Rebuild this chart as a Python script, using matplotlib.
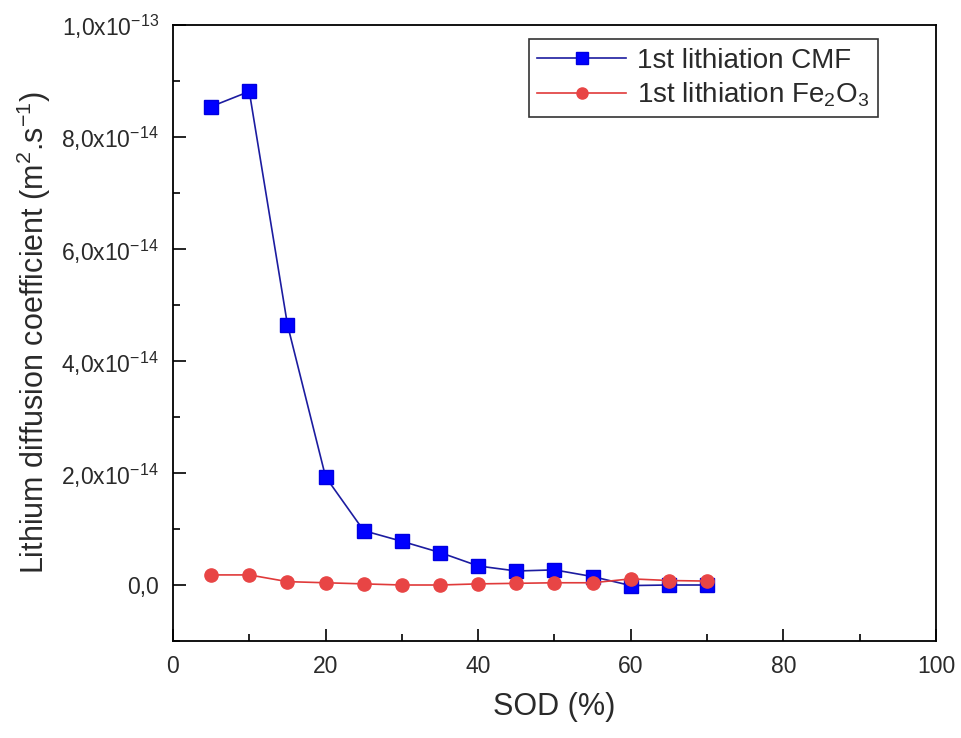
import matplotlib
matplotlib.use("Agg")
import matplotlib.pyplot as plt
from matplotlib.ticker import FixedLocator, MultipleLocator

plt.rcParams['font.family'] = ['Liberation Sans', 'DejaVu Sans']
plt.rcParams['mathtext.fontset'] = 'custom'
plt.rcParams['mathtext.rm'] = 'Liberation Sans'
plt.rcParams['mathtext.it'] = 'Liberation Sans'
plt.rcParams['axes.unicode_minus'] = False

sod = [5, 10, 15, 20, 25, 30, 35, 40, 45, 50, 55, 60, 65, 70]
cmf = [8.54e-14, 8.81e-14, 4.65e-14, 1.93e-14, 0.97e-14, 0.78e-14, 0.58e-14,
       0.34e-14, 0.25e-14, 0.27e-14, 0.15e-14, -0.01e-14, 0.0, 0.0]
fe2o3 = [0.18e-14, 0.18e-14, 0.06e-14, 0.04e-14, 0.02e-14, 0.0, 0.0,
         0.02e-14, 0.03e-14, 0.04e-14, 0.04e-14, 0.11e-14, 0.08e-14, 0.07e-14]

ytick_vals = [0.0, 2e-14, 4e-14, 6e-14, 8e-14, 1e-13]
ytick_labels = ['0,0', r'2,0x10$^{-14}$', r'4,0x10$^{-14}$', r'6,0x10$^{-14}$',
                r'8,0x10$^{-14}$', r'1,0x10$^{-13}$']

txt = '#2a2a2a'
fig = plt.figure(figsize=(9.61, 7.38), dpi=100)
ax = fig.add_axes([0.180, 0.1314, 0.794, 0.835])

ax.plot(sod, cmf, color='#1c1ca0', lw=1.2, marker='s', ms=9.5,
        mfc='#0000ff', mec='#0000e0', label='1st lithiation CMF')
ax.plot(sod, fe2o3, color='#e03a3a', lw=1.2, marker='o', ms=9.5,
        mfc='#e84545', mec='#e84545', label=r'1st lithiation Fe$_2$O$_3$')

ax.set_xlim(0, 100)
ax.set_ylim(-1e-14, 1e-13)
ax.xaxis.set_major_locator(MultipleLocator(20))
ax.xaxis.set_minor_locator(MultipleLocator(10))
ax.yaxis.set_major_locator(FixedLocator(ytick_vals))
ax.yaxis.set_minor_locator(MultipleLocator(1e-14))
ax.set_yticklabels(ytick_labels)

ax.tick_params(which='both', direction='in', top=False, right=False,
               labelsize=16.5, width=1.2, labelcolor=txt)
ax.tick_params(which='major', length=9, pad=10)
ax.tick_params(which='minor', length=5)
for s in ax.spines.values():
    s.set_linewidth(1.3)

ax.set_xlabel('SOD (%)', fontsize=22, labelpad=10, color=txt)
ax.set_ylabel(r'Lithium diffusion coefficient (m$^2$.s$^{-1}$)', fontsize=22,
              labelpad=6, color=txt)

leg = ax.legend(loc='upper right', fontsize=20, frameon=True, fancybox=False,
                edgecolor='black', bbox_to_anchor=(0.935, 0.99), handlelength=3.2,
                borderpad=0.3, labelspacing=0.25, handletextpad=0.4,
                borderaxespad=0.3)
leg.get_frame().set_linewidth(1.2)
for t in leg.get_texts():
    t.set_color(txt)
for h in leg.legend_handles:
    h.set_markersize(8)

fig.savefig('out.png', dpi=100)
